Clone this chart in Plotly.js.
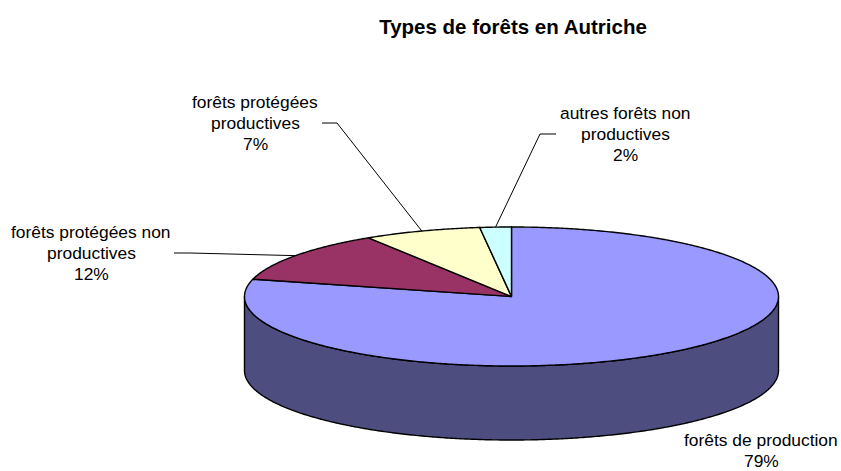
<!DOCTYPE html>
<html><head><meta charset="utf-8">
<script src="https://cdn.plot.ly/plotly-3.0.1.min.js"></script>
<style>html,body{margin:0;padding:0;background:#fff}#c{width:841px;height:471px}</style>
</head><body><div id="c"></div>
<script>
// Data
const names = ["forêts de production", "forêts protégées non productives", "forêts protégées productives", "autres forêts non productives"];
const values = [79, 12, 7.1, 1.9];
const labelLines = [
  ["forêts de production"],
  ["forêts protégées non", "productives"],
  ["forêts protégées", "productives"],
  ["autres forêts non", "productives"]
];
const colors = ["#9999FF", "#993366", "#FFFFCC", "#CCFFFF"];
const sideColor = "#4D4D80";
const titleText = "Types de forêts en Autriche";

// Layout constants (pixels, the axes are mapped 1:1 on the page)
const W = 841, H = 471;
const cx = 511.5, cy = 296.5, rx = 267, ry = 69.5, depth = 74;
const labelPos = [[761, 439.5], [91, 232], [255, 102], [625, 113]];
const lineStep = 21;
const leaderElbows = [null, [[174, 253], [190, 253]], [[322, 123], [337, 123]], [[556, 134], [540, 134]]];

const pt = (deg, dy = 0) => {
  const a = deg * Math.PI / 180;
  return [cx + rx * Math.sin(a), cy - ry * Math.cos(a) + dy];
};
const arc = (from, to, dy = 0) => {
  const out = [], n = Math.max(2, Math.ceil(Math.abs(to - from) * 2));
  for (let i = 0; i <= n; i++) out.push(pt(from + (to - from) * i / n, dy));
  return out;
};

const traces = [];
const poly = (pts, fill, width = 1.4) => traces.push({
  type: "scatter", mode: "lines", x: pts.map(p => p[0]), y: pts.map(p => p[1]),
  fill: "toself", fillcolor: fill, line: { color: "#000", width, simplify: false },
  hoverinfo: "skip", showlegend: false
});

// Side wall of the visible front half
poly([...arc(90, 270), ...arc(270, 90, depth), pt(90)], sideColor);

// Top slices, clockwise from 12 o'clock
const total = values.reduce((a, b) => a + b, 0);
let acc = 0;
const mids = [];
values.forEach((v, i) => {
  const a0 = acc / total * 360, a1 = (acc + v) / total * 360;
  mids.push((a0 + a1) / 2);
  poly([[cx, cy], ...arc(a0, a1), [cx, cy]], colors[i]);
  acc += v;
});

// Leader lines from the middle of each slice
values.forEach((v, i) => {
  if (!leaderElbows[i]) return;
  const pts = [...leaderElbows[i], pt(mids[i])];
  traces.push({ type: "scatter", mode: "lines", x: pts.map(p => p[0]), y: pts.map(p => p[1]),
    line: { color: "#000", width: 1 }, hoverinfo: "skip", showlegend: false });
});

// Labels, one annotation per line for the wide line spacing
const annotations = [];
names.forEach((n, i) => {
  const lines = [...labelLines[i], Math.round(values[i] / total * 100) + "%"];
  lines.forEach((t, k) => annotations.push({
    x: labelPos[i][0], y: labelPos[i][1] + k * lineStep, xref: "x", yref: "y",
    text: t, showarrow: false, xanchor: "center", yanchor: "middle", borderpad: 0,
    font: { family: "Liberation Sans, Arial, sans-serif", size: 17.4, color: "#000" }
  }));
});

Plotly.newPlot("c", traces, {
  width: W, height: H, margin: { l: 0, r: 0, t: 0, b: 0 },
  paper_bgcolor: "#fff", plot_bgcolor: "#fff", showlegend: false,
  title: { text: "<b>" + titleText + "</b>", x: 513 / W, xanchor: "center", y: 1 - 27 / H, yanchor: "middle",
    font: { family: "Liberation Sans, Arial, sans-serif", size: 20.5, color: "#000" } },
  xaxis: { range: [0, W], visible: false, fixedrange: true },
  yaxis: { range: [H, 0], visible: false, fixedrange: true },
  annotations
}, { displayModeBar: false, staticPlot: true });
</script></body></html>
